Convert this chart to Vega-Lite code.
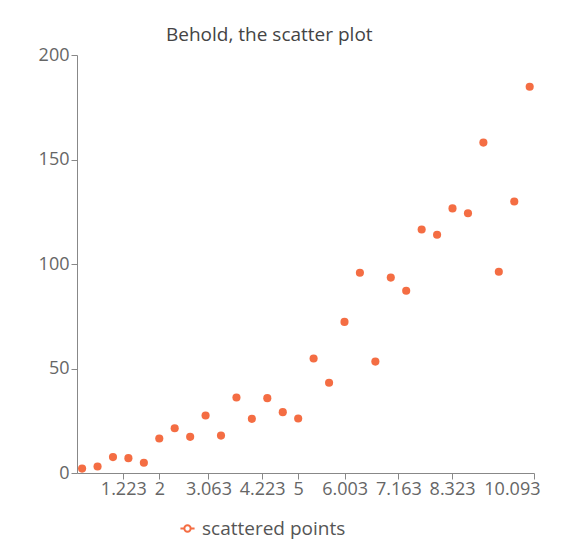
{
  "$schema": "https://vega.github.io/schema/vega-lite/v6.json",
  "autosize": "none",
  "padding": {"left": 77, "top": 55, "right": 52, "bottom": 71},
  "width": 457,
  "height": 418,
  "background": "white",
  "title": {
    "text": "Behold, the scatter plot",
    "anchor": "start",
    "frame": "group",
    "dx": 89,
    "offset": 1,
    "fontSize": 19,
    "fontWeight": "normal",
    "font": "Open Sans",
    "color": "#444"
  },
  "config": {
    "view": {"stroke": null},
    "axis": {
      "grid": false,
      "labelFont": "Open Sans",
      "labelFontSize": 18,
      "labelColor": "#666",
      "domainColor": "#888",
      "tickColor": "#888",
      "tickSize": 6
    }
  },
  "layer": [
    {
      "data": {
        "values": [
          {"x": 0.333, "y": 2.1},
          {"x": 0.667, "y": 3.1},
          {"x": 1.0, "y": 7.6},
          {"x": 1.333, "y": 7.1},
          {"x": 1.667, "y": 4.9},
          {"x": 2.0, "y": 16.5},
          {"x": 2.333, "y": 21.4},
          {"x": 2.667, "y": 17.3},
          {"x": 3.0, "y": 27.5},
          {"x": 3.333, "y": 17.9},
          {"x": 3.667, "y": 36.1},
          {"x": 4.0, "y": 25.9},
          {"x": 4.333, "y": 35.8},
          {"x": 4.667, "y": 29.1},
          {"x": 5.0, "y": 26.1},
          {"x": 5.333, "y": 54.8},
          {"x": 5.667, "y": 43.2},
          {"x": 6.0, "y": 72.3},
          {"x": 6.333, "y": 95.8},
          {"x": 6.667, "y": 53.3},
          {"x": 7.0, "y": 93.5},
          {"x": 7.333, "y": 87.2},
          {"x": 7.667, "y": 116.5},
          {"x": 8.0, "y": 114.0},
          {"x": 8.333, "y": 126.6},
          {"x": 8.667, "y": 124.3},
          {"x": 9.0, "y": 158.1},
          {"x": 9.333, "y": 96.3},
          {"x": 9.667, "y": 129.9},
          {"x": 10.0, "y": 184.8}
        ]
      },
      "mark": {"type": "circle", "opacity": 1, "size": 66, "color": "#f46d43"},
      "encoding": {
        "x": {
          "field": "x",
          "type": "quantitative",
          "title": null,
          "scale": {"domain": [0.223, 10.093], "nice": false, "zero": false},
          "axis": {
            "values": [1.223, 2, 3.063, 4.223, 5, 6.003, 7.163, 8.323, 10.093],
            "labelExpr": "'' + datum.value",
            "labelFlush": true,
            "labelFlushOffset": 6,
            "labelOverlap": false,
            "labelPadding": 1
          }
        },
        "y": {
          "field": "y",
          "type": "quantitative",
          "title": null,
          "scale": {"domain": [0, 200], "nice": false},
          "axis": {"values": [0, 50, 100, 150, 200], "labelPadding": 2}
        }
      }
    },
    {
      "data": {"values": []},
      "mark": {
        "type": "point",
        "filled": false,
        "opacity": 1,
        "strokeWidth": 2,
        "size": 200,
        "shape": "M-1,0L-0.45,0M0.45,0L1,0M-0.45,0A0.45,0.45,0,1,1,0.45,0A0.45,0.45,0,1,1,-0.45,0Z"
      },
      "encoding": {
        "x": {"field": "x", "type": "quantitative"},
        "y": {"field": "y", "type": "quantitative"},
        "stroke": {
          "datum": "scattered points",
          "scale": {"range": ["#f46d43"]},
          "legend": {
            "title": null,
            "orient": "none",
            "legendX": 101,
            "legendY": 464,
            "symbolSize": 200,
            "symbolStrokeWidth": 2,
            "symbolOpacity": 1,
            "labelFont": "Open Sans",
            "labelFontSize": 19,
            "labelColor": "#555",
            "labelOffset": 5
          }
        }
      }
    }
  ]
}
